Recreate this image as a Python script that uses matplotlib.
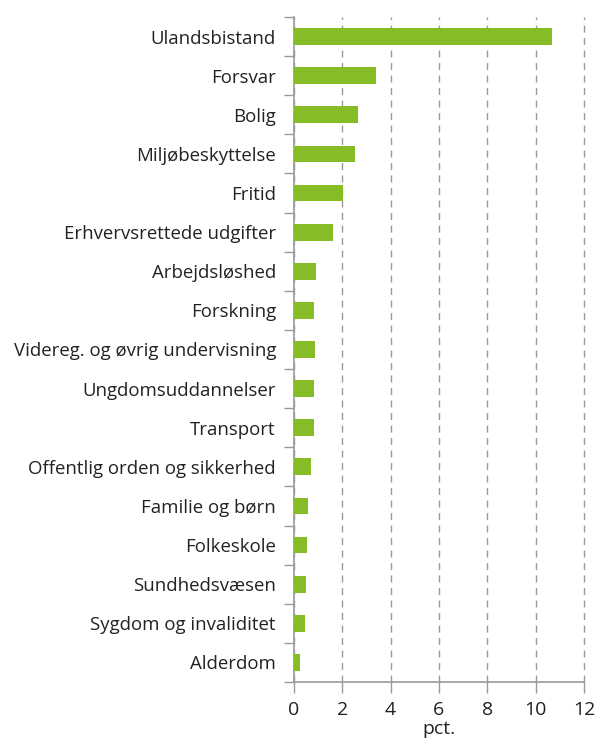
import matplotlib
matplotlib.use("Agg")
import matplotlib.pyplot as plt
import numpy as np

categories = ["Ulandsbistand", "Forsvar", "Bolig", "Miljøbeskyttelse", "Fritid",
              "Erhvervsrettede udgifter", "Arbejdsløshed", "Forskning",
              "Videreg. og øvrig undervisning", "Ungdomsuddannelser", "Transport",
              "Offentlig orden og sikkerhed", "Familie og børn", "Folkeskole",
              "Sundhedsvæsen", "Sygdom og invaliditet", "Alderdom"]
values = [10.67, 3.41, 2.65, 2.54, 2.04, 1.63, 0.91, 0.84, 0.85, 0.83, 0.81,
          0.72, 0.56, 0.54, 0.50, 0.44, 0.24]
xticks = [0, 2, 4, 6, 8, 10, 12]
xlabel = "pct."

plt.rcParams['font.family'] = ['Open Sans', 'DejaVu Sans']

fig = plt.figure(figsize=(5.96, 7.38), dpi=100)
ax = fig.add_axes([294/596, 1-682/738, 290/596, 665/738])

n = len(categories)
ypos = np.arange(n)[::-1]
ax.barh(ypos, values, height=0.43, color='#86BC25', zorder=3)

ax.set_xlim(0, 12)
ax.set_ylim(-0.5, n-0.5)
ax.set_xticks(xticks)
ax.set_xticklabels([str(t) for t in xticks], fontsize=14, color='#222222')
ax.set_yticks(ypos)
ax.set_yticklabels(categories, fontsize=13.4, color='#222222')
ax.tick_params(axis='y', length=0, pad=13)
ax.set_yticks(np.arange(-0.5, n, 1.0), minor=True)
ax.tick_params(axis='y', which='minor', length=7, color='#999999', width=1)
ax.tick_params(axis='x', length=8, color='#999999', width=1, pad=6)

ax.xaxis.grid(True, linestyle=(0, (5, 4)), color='#999999', linewidth=1, zorder=0)
for gl in ax.get_xgridlines():
    gl.set_clip_on(False)
for s in ['top', 'right']:
    ax.spines[s].set_visible(False)
for s in ['left', 'bottom']:
    ax.spines[s].set_color('#999999')
    ax.spines[s].set_linewidth(1.2)

ax.set_xlabel(xlabel, fontsize=14, color='#222222', labelpad=0.5)

fig.savefig("out.png", dpi=100)
